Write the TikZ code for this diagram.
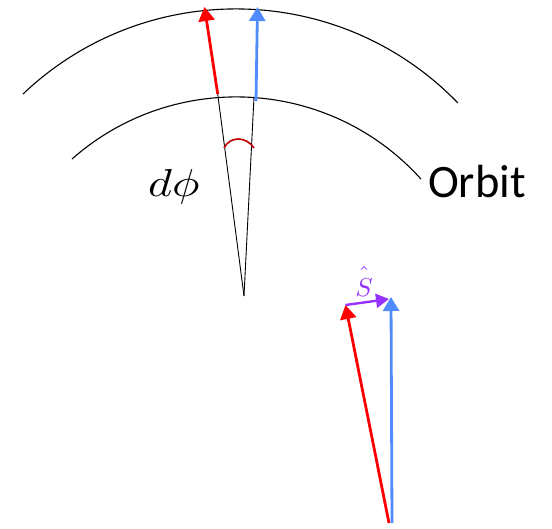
\documentclass[tikz,border=0pt]{standalone}
\usepackage{graphicx}
\usepackage{fontspec}
\newfontfamily\orbitfont{Carlito}
\usetikzlibrary{arrows.meta}
\definecolor{vred}{RGB}{255,0,0}
\definecolor{vblue}{RGB}{80,140,255}
\definecolor{vpurple}{RGB}{150,50,255}
\definecolor{angred}{RGB}{192,0,0}
\tikzset{
  orbitline/.style={black, line width=1.1pt},
  radline/.style={black, line width=0.9pt},
  vec/.style={line width=2.8pt, -{Triangle[width=16pt,length=14pt]}},
  svec/.style={line width=2.4pt, -{Triangle[width=14pt,length=13pt]}}
}
\begin{document}
\begin{tikzpicture}[x=1pt,y=-1pt]
\useasboundingbox (0,0) rectangle (552,528);
% orbits
\draw[orbitline] (23,94) arc[start angle=133.56, end angle=44.08, radius=309pt];
\draw[orbitline] (72,159) arc[start angle=131.4, end angle=42.0, radius=248.5pt];
% radial lines
\coordinate (apex) at (244,296);
\coordinate (r0) at (217.7,94);
\coordinate (b0) at (254,97);
\draw[radline] (apex) -- (r0);
\draw[radline] (apex) -- (b0);
% vectors at top
\coordinate (r1) at (204.5,7);
\coordinate (b1s) at (256,101);
\coordinate (b1) at (257.5,7);
\draw[vec, vred] (r0) -- (r1);
\draw[vec, vblue] (b1s) -- (b1);
% angle mark
\draw[angred, line width=1.6pt] (224,148) .. controls (230,136) and (246,136) .. (254,148);
\node[anchor=base west, inner sep=0pt] (dphi) at (148,196) {\scalebox{4.6}[3.9]{$d\phi$}};
\node[anchor=base west, inner sep=0pt, font=\orbitfont\fontsize{46.5}{52}\selectfont] (orbit) at (428,197) {Orbit};
% lower vectors
\coordinate (lr0) at (389,523);
\coordinate (lr1) at (345.5,305);
\coordinate (lb0) at (392,523);
\coordinate (lb1) at (391,297);
\draw[vec, vred] (lr0) -- (lr1);
\draw[vec, vblue] (lb0) -- (lb1);
\draw[svec, vpurple] (lr1) -- (389,299);
\node[anchor=base, inner sep=0pt, text=vpurple] (shat) at (364,296.5) {\scalebox{2.6}{$\hat{\rule{0pt}{9pt}S}$}};
\end{tikzpicture}
\end{document}
